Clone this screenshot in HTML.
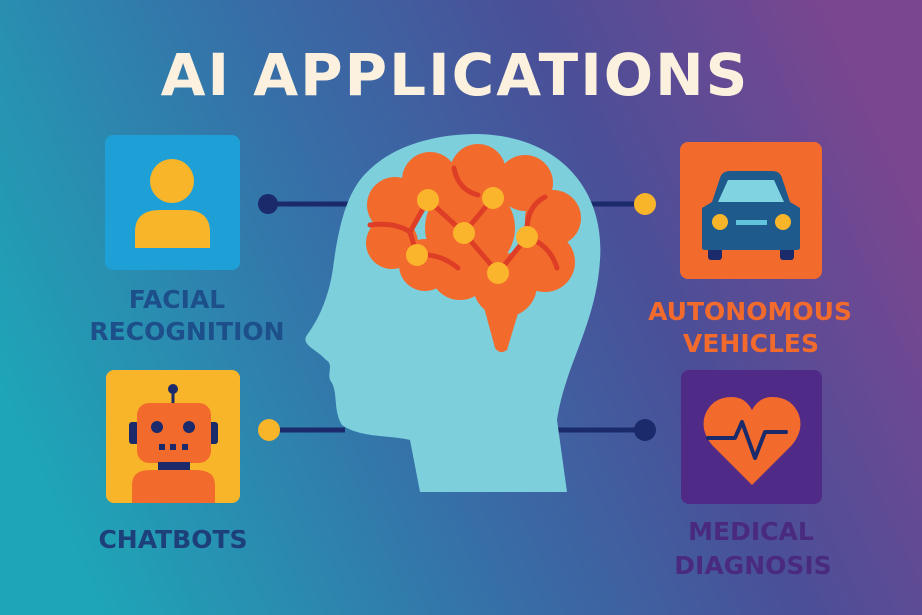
<!DOCTYPE html>
<html><head><meta charset="utf-8"><style>
html,body{margin:0;padding:0;width:922px;height:615px;overflow:hidden}
text{font-family:"DejaVu Sans","Liberation Sans",sans-serif;font-weight:bold}
</style></head><body>
<svg width="922" height="615" viewBox="0 0 922 615" xmlns="http://www.w3.org/2000/svg">
<defs>
<linearGradient id="bg" x1="0" y1="0.65" x2="1" y2="0.35">
<stop offset="0" stop-color="#1ea6b7"/>
<stop offset="0.4" stop-color="#3670a8"/>
<stop offset="0.7" stop-color="#4a4f98"/>
<stop offset="1" stop-color="#7a4690"/>
</linearGradient>
</defs>
<rect width="922" height="615" fill="url(#bg)"/>
<text x="455" y="95" text-anchor="middle" font-size="58" fill="#fbf1de" letter-spacing="2">AI APPLICATIONS</text>

<g stroke="#1a2a6a" stroke-width="5">
<line x1="268" y1="204" x2="350" y2="204"/>
<line x1="269" y1="430" x2="345" y2="430"/>
<line x1="585" y1="204" x2="645" y2="204"/>
<line x1="555" y1="430" x2="645" y2="430"/>
</g>
<circle cx="268" cy="204" r="10" fill="#1a2a6a"/>
<circle cx="269" cy="430" r="11" fill="#f8b52a"/>
<circle cx="645" cy="204" r="11" fill="#f8b52a"/>
<circle cx="645" cy="430" r="11" fill="#1a2a6a"/>

<!-- head -->
<path d="M360,180 C385,148 430,134 478,134 C560,136 605,190 600,260 C596,325 565,365 557,420 L567,492 L420,492 L410,440 C390,435 360,438 342,425 C333,410 338,395 332,383 C325,375 335,365 326,360 C318,350 300,345 307,335 C322,315 330,290 333,268 C338,230 345,200 360,180 Z" fill="#7ecfdc"/>

<!-- brain -->
<g fill="#f26b2d">
<circle cx="395" cy="205" r="28"/><circle cx="430" cy="180" r="28"/><circle cx="478" cy="172" r="28"/>
<circle cx="525" cy="183" r="28"/><circle cx="553" cy="218" r="28"/><circle cx="545" cy="262" r="30"/>
<circle cx="392" cy="243" r="26"/><circle cx="425" cy="265" r="26"/><circle cx="470" cy="228" r="45"/>
<circle cx="505" cy="285" r="32"/><circle cx="460" cy="270" r="30"/>
<path d="M482,300 L522,300 L507,350 Q500,355 495,348 Z"/>
</g>
<g stroke="#de3e26" stroke-width="5" fill="none" stroke-linecap="round">
<path d="M370,225 Q395,222 410,232 L428,200 L464,233 L493,198"/>
<path d="M410,232 L417,255 Q440,253 458,268"/>
<path d="M464,233 L498,273 L527,237 Q550,245 557,268"/>
<path d="M454,168 Q458,190 478,195"/>
<path d="M527,237 Q525,207 545,197"/>
</g>
<g fill="#fbb52d">
<circle cx="428" cy="200" r="11"/><circle cx="493" cy="198" r="11"/><circle cx="464" cy="233" r="11"/>
<circle cx="527" cy="237" r="11"/><circle cx="417" cy="255" r="11"/><circle cx="498" cy="273" r="11"/>
</g>

<!-- facial -->
<rect x="105" y="135" width="135" height="135" rx="8" fill="#1e9fd6"/>
<circle cx="172" cy="181" r="22" fill="#f8b52a"/>
<path d="M135,248 L135,232 Q135,210 160,210 L185,210 Q210,210 210,232 L210,248 Z" fill="#f8b52a"/>
<text x="177" y="308" text-anchor="middle" font-size="25" fill="#1d4f8a">FACIAL</text>
<text x="187" y="340" text-anchor="middle" font-size="25" fill="#1d4f8a">RECOGNITION</text>

<!-- chatbot -->
<rect x="106" y="370" width="134" height="133" rx="8" fill="#f8b52a"/>
<line x1="173" y1="390" x2="173" y2="405" stroke="#1a2a6a" stroke-width="3"/>
<circle cx="173" cy="389" r="5" fill="#1a2a6a"/>
<rect x="129" y="422" width="10" height="22" rx="3" fill="#1a2a6a"/>
<rect x="208" y="422" width="10" height="22" rx="3" fill="#1a2a6a"/>
<rect x="137" y="403" width="74" height="60" rx="12" fill="#f26b2d"/>
<rect x="158" y="462" width="32" height="8" fill="#1a2a6a"/>
<path d="M132,503 L132,485 Q132,470 150,470 L196,470 Q215,470 215,485 L215,503 Z" fill="#f26b2d"/>
<circle cx="157" cy="427" r="6" fill="#1a2a6a"/><circle cx="189" cy="427" r="6" fill="#1a2a6a"/>
<rect x="159" y="444" width="6" height="6" fill="#1a2a6a"/><rect x="170" y="444" width="6" height="6" fill="#1a2a6a"/><rect x="182" y="444" width="6" height="6" fill="#1a2a6a"/>
<text x="173" y="548" text-anchor="middle" font-size="25" fill="#1d3f7a">CHATBOTS</text>

<!-- car -->
<rect x="680" y="142" width="142" height="137" rx="8" fill="#f26b2d"/>
<rect x="708" y="245" width="14" height="15" rx="3" fill="#1a2a6a"/>
<rect x="780" y="245" width="14" height="15" rx="3" fill="#1a2a6a"/>
<path d="M702,248 L702,208 L712,202 L720,178 Q722,171 730,171 L772,171 Q780,171 782,178 L790,202 L800,208 L800,248 Q800,250 796,250 L706,250 Q702,250 702,248 Z" fill="#1e5a8c"/>
<path d="M718,202 L728,180 L774,180 L784,202 Z" fill="#80d3e0"/>
<circle cx="720" cy="222" r="8" fill="#f8b52a"/><circle cx="783" cy="222" r="8" fill="#f8b52a"/>
<rect x="736" y="220" width="31" height="5" fill="#5fc4dc"/>
<text x="750" y="320" text-anchor="middle" font-size="25" fill="#f26b2d">AUTONOMOUS</text>
<text x="751" y="352" text-anchor="middle" font-size="25" fill="#f26b2d">VEHICLES</text>

<!-- medical -->
<rect x="681" y="370" width="141" height="134" rx="8" fill="#4f2a86"/>
<path d="M752,485 L712,445 Q700,430 705,415 Q712,397 732,397 Q745,397 752,410 Q759,397 772,397 Q792,397 799,415 Q804,430 792,445 Z" fill="#f26b2d"/>
<polyline points="708,438 735,438 742,422 755,458 765,432 786,432" fill="none" stroke="#1a2a6a" stroke-width="4" stroke-linejoin="round" stroke-linecap="round"/>
<text x="751" y="540" text-anchor="middle" font-size="25" fill="#4a2a7e">MEDICAL</text>
<text x="753" y="574" text-anchor="middle" font-size="25" fill="#4a2a7e">DIAGNOSIS</text>
</svg>
</body></html>
